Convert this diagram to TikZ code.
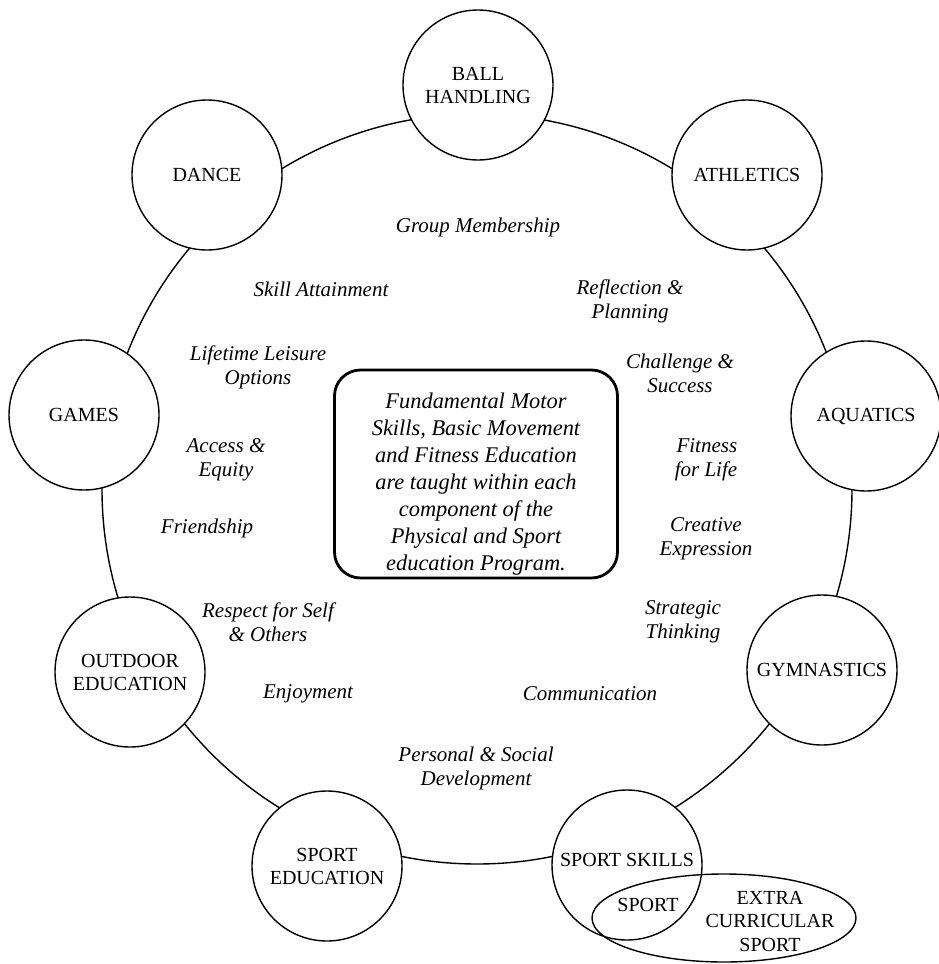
\documentclass[tikz,border=0pt]{standalone}
\usepackage{fontspec}
\setmainfont{Liberation Serif}
\usetikzlibrary{shapes.geometric}
\tikzstyle{activity} = [circle, draw, line width=1.4pt, fill=white, minimum size=150pt, inner sep=0pt, align=center, font=\fontsize{20}{23}\selectfont]
\tikzstyle{value} = [align=center, font=\fontsize{21}{24}\selectfont\itshape]
\tikzstyle{core} = [rectangle, draw, line width=2.8pt, rounded corners=26pt, minimum width=283pt, minimum height=208pt]
\tikzstyle{coretext} = [align=center, font=\fontsize{22.4}{27}\selectfont\itshape]
\tikzstyle{ring} = [line width=1.4pt]
\tikzstyle{extra} = [ellipse, draw, line width=1.4pt, minimum width=264pt, minimum height=88pt, inner sep=0pt]
\tikzstyle{plain} = [align=center, font=\fontsize{20}{23.5}\selectfont]

\begin{document}
\begin{tikzpicture}[x=1pt, y=-1pt]
\useasboundingbox (0,0) rectangle (938,964);

\coordinate (hub) at (477,489);
\draw [ring] (hub) circle [radius=375pt];

\node (ball)     [activity] at (478,85)  {BALL\\HANDLING};
\node (athl)     [activity] at (747,175) {ATHLETICS};
\node (aqua)     [activity] at (866,416) {AQUATICS};
\node (gym)      [activity] at (822,670) {GYMNASTICS};
\node (skills)   [activity] at (627,865) {};
\node (sported)  [activity] at (327,866) {SPORT\\EDUCATION};
\node (outdoor)  [activity] at (130,672) {OUTDOOR\\EDUCATION};
\node (games)    [activity] at (84,415)  {GAMES};
\node (dance)    [activity] at (207,175) {DANCE};

\node (skillstext) [plain] at (627,860) {SPORT SKILLS};
\node (ecs)      [extra] at (724,918) {};
\node (sport)    [plain] at (648,905) {SPORT};
\node (ecstext)  [plain] at (770,921) {EXTRA\\CURRICULAR\\SPORT};

\node (fms)      [core] at (476,474) {};
\node (fmstext)  [coretext] at (476,484) {Fundamental Motor\\Skills, Basic Movement\\and Fitness Education\\are taught within each\\component of the\\Physical and Sport\\education Program.};

\node (group)    [value] at (478,227) {Group Membership};
\node (skill)    [value] at (321,289) {Skill Attainment};
\node (reflect)  [value] at (630,301) {Reflection \&\\Planning};
\node (leisure)  [value] at (258,367) {Lifetime Leisure\\Options};
\node (success)  [value] at (680,373) {Challenge \&\\Success};
\node (access)   [value] at (226,460) {Access \&\\Equity};
\node (fitness)  [value, align=right] at (706,460) {Fitness\\for Life};
\node (friend)   [value] at (207,528) {Friendship};
\node (creative) [value] at (706,539) {Creative\\Expression};
\node (respect)  [value] at (268,622) {Respect for Self\\\& Others};
\node (strategy) [value] at (683,622) {Strategic\\Thinking};
\node (enjoy)    [value] at (308,694) {Enjoyment};
\node (comm)     [value] at (590,694) {Communication};
\node (social)   [value] at (476,768) {Personal \& Social\\Development};

\end{tikzpicture}
\end{document}
